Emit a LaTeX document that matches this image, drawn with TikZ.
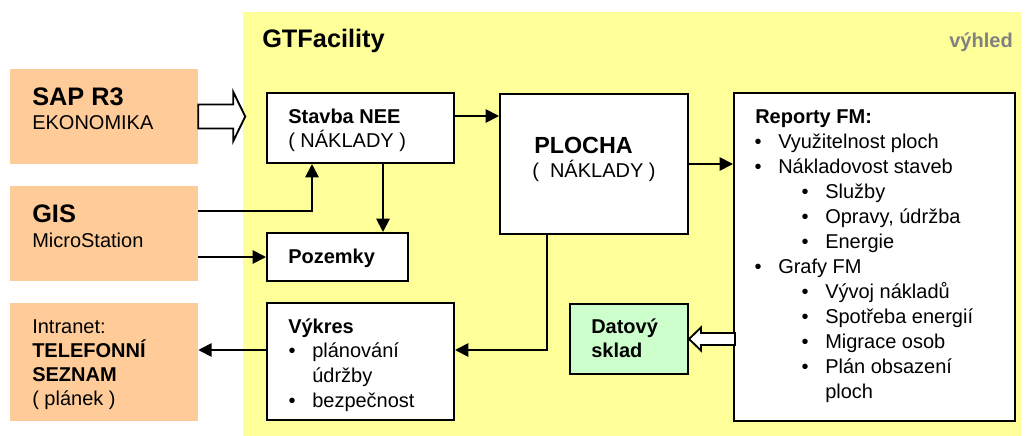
\documentclass[tikz,border=0pt]{standalone}
\usepackage{fontspec}
\setmainfont{Liberation Sans}
\usepackage{xcolor}
\definecolor{gtyellow}{RGB}{255,255,153}
\definecolor{gtpeach}{RGB}{255,204,153}
\definecolor{gtgreen}{RGB}{204,255,204}
\definecolor{gtgrey}{RGB}{128,128,128}
\usepackage{tikz}
\usetikzlibrary{positioning, fit, calc, arrows.meta}

\begin{document}
\begin{tikzpicture}[x=0.75pt, y=-0.75pt,
    box/.style={draw, line width=1.5pt, inner sep=0pt, fill=white},
    srcbox/.style={fill=gtpeach, inner sep=0pt},
    txt/.style={anchor=base west, inner sep=0pt, font=\fontsize{15}{18}\selectfont},
    hdr/.style={txt, font=\fontsize{15}{18}\selectfont\bfseries},
    big/.style={txt, font=\fontsize{19}{22}\selectfont\bfseries},
    dot/.style={anchor=base, inner sep=0pt, font=\fontsize{15}{18}\selectfont},
    arr/.style={line width=1.4pt, -{Triangle[length=10pt, width=10pt]}},
    hollow/.style={draw, line width=1.4pt, fill=white, line join=miter},
  ]
    \useasboundingbox (0,0) rectangle (1026,436);

    % GTFacility area
    \fill[gtyellow] (243,12) rectangle (1021,436);
    \node[big] (title) at (262,47) {GTFacility};
    \node[hdr, anchor=base east, text=gtgrey] (outlook) at (1013,47) {výhled};

    % Zdroje (vlevo)
    \node[srcbox, fit={(10,69) (198,164)}] (sap) {};
    \node[big] (sapT) at (32,105) {SAP R3};
    \node[txt] (sapS) at (32,129) {EKONOMIKA};

    \node[srcbox, fit={(10,186) (198,281)}] (gis) {};
    \node[big] (gisT) at (32,222) {GIS};
    \node[txt] (gisS) at (32,247) {MicroStation};

    \node[srcbox, fit={(10,303) (198,421)}] (intranet) {};
    \node[txt] (intA) at (32,333) {Intranet:};
    \node[hdr] (intB) at (32,357) {TELEFONNÍ};
    \node[hdr] (intC) at (32,381) {SEZNAM};
    \node[txt] (intD) at (32,405) {( plánek )};

    % Moduly
    \node[box, fit={(267,93) (454,163)}] (stavba) {};
    \node[hdr] (stavbaT) at (288,123) {Stavba NEE};
    \node[txt] (stavbaS) at (288,147) {( NÁKLADY )};

    \node[box, fit={(267,233) (408,281)}] (pozemky) {};
    \node[hdr] (pozemkyT) at (288,263) {Pozemky};

    \node[box, fit={(267,303) (454,420)}] (vykres) {};
    \node[hdr] (vykresT) at (288,333) {Výkres};
    \node[dot] (vb1) at (292,357) {•};
    \node[txt] (vykresA) at (312,357) {plánování};
    \node[txt] (vykresB) at (312,382) {údržby};
    \node[dot] (vb2) at (292,407) {•};
    \node[txt] (vykresC) at (312,407) {bezpečnost};

    \node[box, fit={(500,94) (688,234)}] (plocha) {};
    \node[txt, font=\fontsize{17.5}{20}\selectfont\bfseries] (plochaT) at (534,153) {PLOCHA};
    \node[txt] (plochaS) at (532,177) {(\ \ NÁKLADY )};

    \node[box, fill=gtgreen, fit={(570,304) (688,374)}] (datovy) {};
    \node[hdr] (datovyA) at (591,333) {Datový};
    \node[hdr] (datovyB) at (591,357) {sklad};

    \node[box, fit={(734,93) (1015,421)}] (reporty) {};
    \node[hdr] (reportyT) at (755,123) {Reporty FM:};
    \foreach \lvl/\txt [count=\i] in {1/Využitelnost ploch, 1/Nákladovost staveb,
        2/Služby, 2/{Opravy, údržba}, 2/Energie, 1/Grafy FM, 2/Vývoj nákladů,
        2/Spotřeba energií, 2/Migrace osob, 2/Plán obsazení, 3/ploch} {
      \pgfmathsetmacro\tx{\lvl==1 ? 778 : 825}
      \node[txt] (rep\i) at (\tx, 123+25*\i) {\txt};
      \ifnum\lvl<3
        \node[dot] (repb\i) at (\tx-20, 123+25*\i) {•};
      \fi
    }

    % Spojnice
    \coordinate (s1) at ($(stavba.north east)+(0,24)$);
    \draw[arr] (s1) -- (s1 -| plocha.west);
    \draw[arr] (plocha.east) -- (plocha.east -| reporty.west);

    \coordinate (g1) at ($(gis.north east)+(0,25)$);
    \coordinate (s2) at ($(stavba.south west)+(46,0)$);
    \draw[arr] (g1) -| (s2);

    \coordinate (s3) at ($(stavba.south west)+(117,0)$);
    \draw[arr] (s3) -- (s3 |- pozemky.north);
    \draw[arr] (gis.east |- pozemky.west) -- (pozemky.west);

    \coordinate (v1) at ($(vykres.north east)+(0,48)$);
    \coordinate (p1) at ($(plocha.south west)+(48,0)$);
    \draw[arr] (p1) |- (v1);
    \draw[arr] (v1 -| vykres.west) -- (v1 -| intranet.east);

    % Blokove sipky
    \draw[hollow] ($(sap.east)+(0,-12)$) -- ++(35,0) -- ++(0,-12.5)
      -- ++(12,24.5) -- ++(-12,24.5) -- ++(0,-12.5) -- ++(-35,0) -- cycle;
    \draw[hollow] (datovy.east) -- ++(12,-11.5) -- ++(0,5.5) -- ++(34,0)
      -- ++(0,12) -- ++(-34,0) -- ++(0,5.5) -- cycle;
  \end{tikzpicture}
\end{document}
